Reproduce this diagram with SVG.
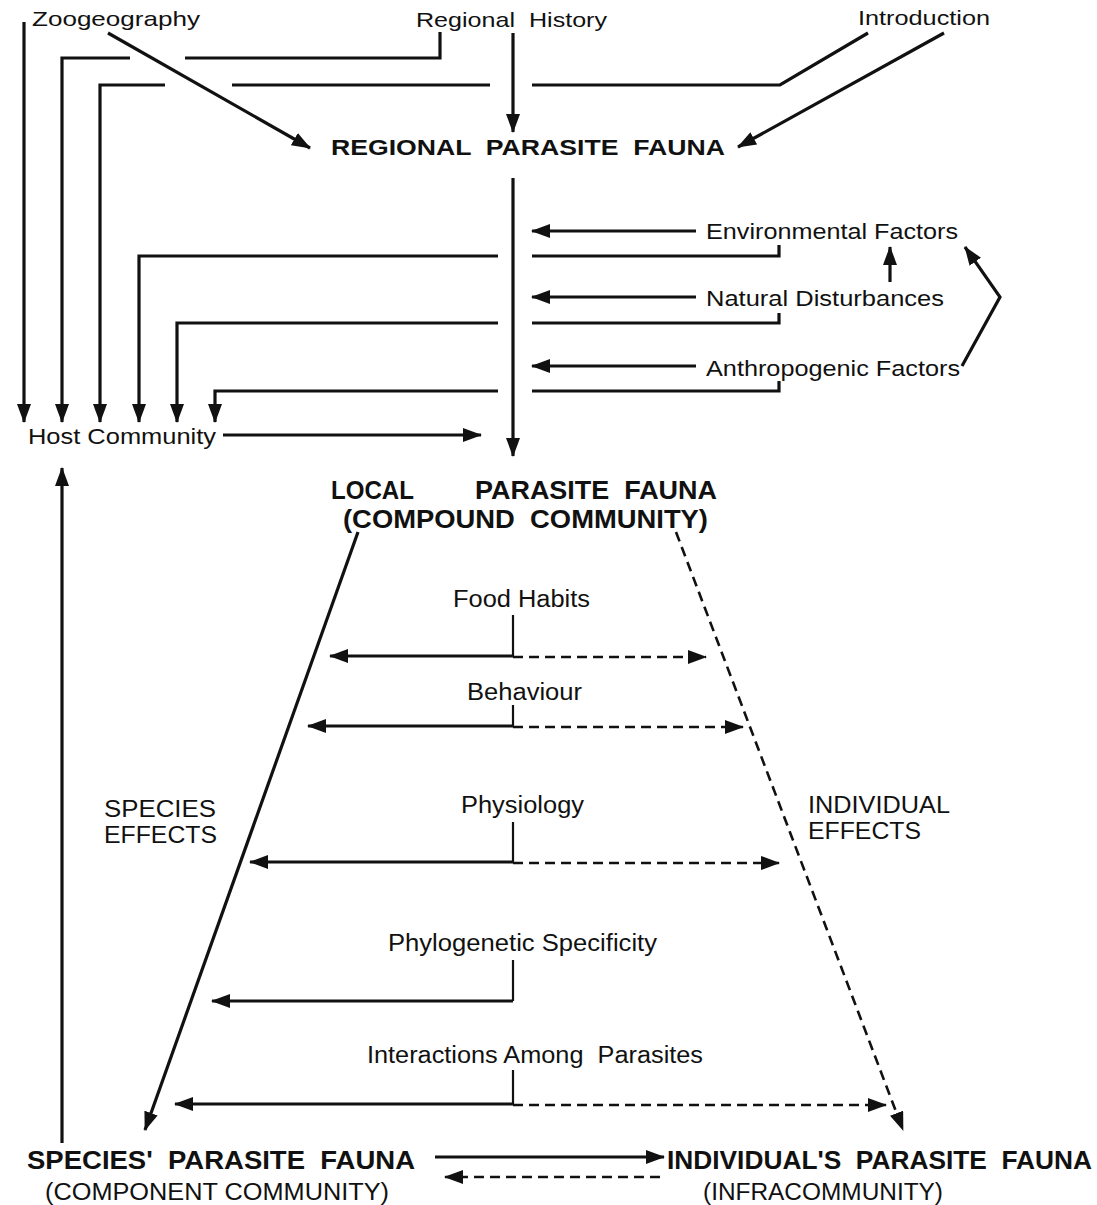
<svg xmlns="http://www.w3.org/2000/svg" width="1097" height="1205" viewBox="0 0 1097 1205">
<style>
text{font-family:"Liberation Sans",Arial,sans-serif;fill:#111;}
.t{font-size:21px;}
.f{font-size:22px;}
.m{font-size:23px;}
.b{font-size:22px;font-weight:bold;}
.bb{font-size:25px;font-weight:bold;}
.e{font-size:23px;}
.ah{fill:none;stroke:#111;stroke-width:3.2;marker-end:url(#ar);}
.da{fill:none;stroke:#111;stroke-width:2.6;stroke-dasharray:10 6;marker-end:url(#ar);}
.tk{fill:none;stroke:#111;stroke-width:2.2;}
</style>
<defs>
<marker id="ar" markerUnits="userSpaceOnUse" markerWidth="20" markerHeight="14" refX="18" refY="7" orient="auto" viewBox="0 0 20 14">
<path d="M0,0 L19,7 L0,14 z" fill="#111"/>
</marker>
</defs>
<rect width="1097" height="1205" fill="#fff"/>

<g id="zoogeography"><text class="t" x="32" y="26" textLength="168" lengthAdjust="spacingAndGlyphs">Zoogeography</text></g>
<g id="regional-history"><text class="t" x="416" y="27" textLength="191" lengthAdjust="spacingAndGlyphs" xml:space="preserve">Regional  History</text></g>
<g id="introduction"><text class="t" x="858" y="25" textLength="132" lengthAdjust="spacingAndGlyphs">Introduction</text></g>
<g id="regional-parasite-fauna"><text class="b" x="331" y="155" textLength="394" lengthAdjust="spacingAndGlyphs" xml:space="preserve">REGIONAL  PARASITE  FAUNA</text></g>
<g id="environmental-factors"><text class="f" x="706" y="239" textLength="252" lengthAdjust="spacingAndGlyphs">Environmental Factors</text></g>
<g id="natural-disturbances"><text class="f" x="706" y="306" textLength="238" lengthAdjust="spacingAndGlyphs">Natural Disturbances</text></g>
<g id="anthropogenic-factors"><text class="f" x="706" y="376" textLength="254" lengthAdjust="spacingAndGlyphs">Anthropogenic Factors</text></g>
<g id="host-community"><text class="f" x="28" y="444" textLength="188" lengthAdjust="spacingAndGlyphs">Host Community</text></g>
<g id="local-parasite-fauna">
<text class="bb" x="331" y="499" textLength="83" lengthAdjust="spacingAndGlyphs">LOCAL</text>
<text class="bb" x="475" y="499" textLength="242" lengthAdjust="spacingAndGlyphs" xml:space="preserve">PARASITE  FAUNA</text>
<text class="bb" x="343" y="528" textLength="365" lengthAdjust="spacingAndGlyphs" xml:space="preserve">(COMPOUND  COMMUNITY)</text>
</g>
<g id="food-habits"><text class="m" x="453" y="607" textLength="137" lengthAdjust="spacingAndGlyphs">Food Habits</text></g>
<g id="behaviour"><text class="m" x="467" y="700" textLength="115" lengthAdjust="spacingAndGlyphs">Behaviour</text></g>
<g id="physiology"><text class="m" x="461" y="813" textLength="123" lengthAdjust="spacingAndGlyphs">Physiology</text></g>
<g id="phylogenetic-specificity"><text class="m" x="388" y="951" textLength="269" lengthAdjust="spacingAndGlyphs">Phylogenetic Specificity</text></g>
<g id="interactions-among-parasites"><text class="m" x="367" y="1063" textLength="336" lengthAdjust="spacingAndGlyphs" xml:space="preserve">Interactions Among  Parasites</text></g>
<g id="species-effects">
<text class="e" x="104" y="817" textLength="112" lengthAdjust="spacingAndGlyphs">SPECIES</text>
<text class="e" x="104" y="843" textLength="113" lengthAdjust="spacingAndGlyphs">EFFECTS</text>
</g>
<g id="individual-effects">
<text class="e" x="808" y="813" textLength="142" lengthAdjust="spacingAndGlyphs">INDIVIDUAL</text>
<text class="e" x="808" y="839" textLength="113" lengthAdjust="spacingAndGlyphs">EFFECTS</text>
</g>
<g id="species-parasite-fauna">
<text class="bb" x="27" y="1169" textLength="388" lengthAdjust="spacingAndGlyphs" xml:space="preserve">SPECIES'  PARASITE  FAUNA</text>
<text class="m" x="45" y="1200" textLength="344" lengthAdjust="spacingAndGlyphs">(COMPONENT COMMUNITY)</text>
</g>
<g id="individuals-parasite-fauna">
<text class="bb" x="667" y="1169" textLength="425" lengthAdjust="spacingAndGlyphs" xml:space="preserve">INDIVIDUAL'S  PARASITE  FAUNA</text>
<text class="m" x="703" y="1200" textLength="240" lengthAdjust="spacingAndGlyphs">(INFRACOMMUNITY)</text>
</g>

<g id="connectors">
<path class="ah" d="M24,22 V422"/>
<path class="ah" d="M440,32 V58 H185 M130,58 H62 V422"/>
<path class="ah" d="M868,33 L780,85 H532 M490,85 H232 M165,85 H100 V422"/>
<path class="ah" d="M108,33 L310,148"/>
<path class="ah" d="M513,33 V132"/>
<path class="ah" d="M944,33 L738,147"/>
<path class="ah" d="M513,178 V456"/>
<path class="ah" d="M696,231 H532"/>
<path class="ah" d="M696,297 H532"/>
<path class="ah" d="M696,366 H532"/>
<path class="ah" d="M779,245 V256 H532 M498,256 H139 V422"/>
<path class="ah" d="M779,313 V323 H532 M498,323 H177 V422"/>
<path class="ah" d="M779,381 V391 H532 M498,391 H215 V422"/>
<path class="ah" d="M890,282 V247"/>
<path class="ah" d="M962,366 L1000,297 L965,247"/>
<path class="ah" d="M223,435 H481"/>
<path class="ah" d="M62,1143 V468"/>
<path class="ah" d="M358,532 L145,1130"/>
<path class="da" d="M676,532 L903,1130"/>
<path class="tk" d="M513,615 V656"/>
<path class="ah" d="M513,656 H330"/>
<path class="da" d="M513,657 H706"/>
<path class="tk" d="M513,705 V726"/>
<path class="ah" d="M513,726 H308"/>
<path class="da" d="M513,727 H743"/>
<path class="tk" d="M513,822 V862"/>
<path class="ah" d="M513,862 H250"/>
<path class="da" d="M513,863 H779"/>
<path class="tk" d="M513,960 V1001"/>
<path class="ah" d="M513,1001 H212"/>
<path class="tk" d="M513,1070 V1104"/>
<path class="ah" d="M513,1104 H175"/>
<path class="da" d="M513,1105 H886"/>
<path class="ah" d="M435,1157 H664"/>
<path class="da" d="M660,1177 H445"/>
</g>
</svg>
